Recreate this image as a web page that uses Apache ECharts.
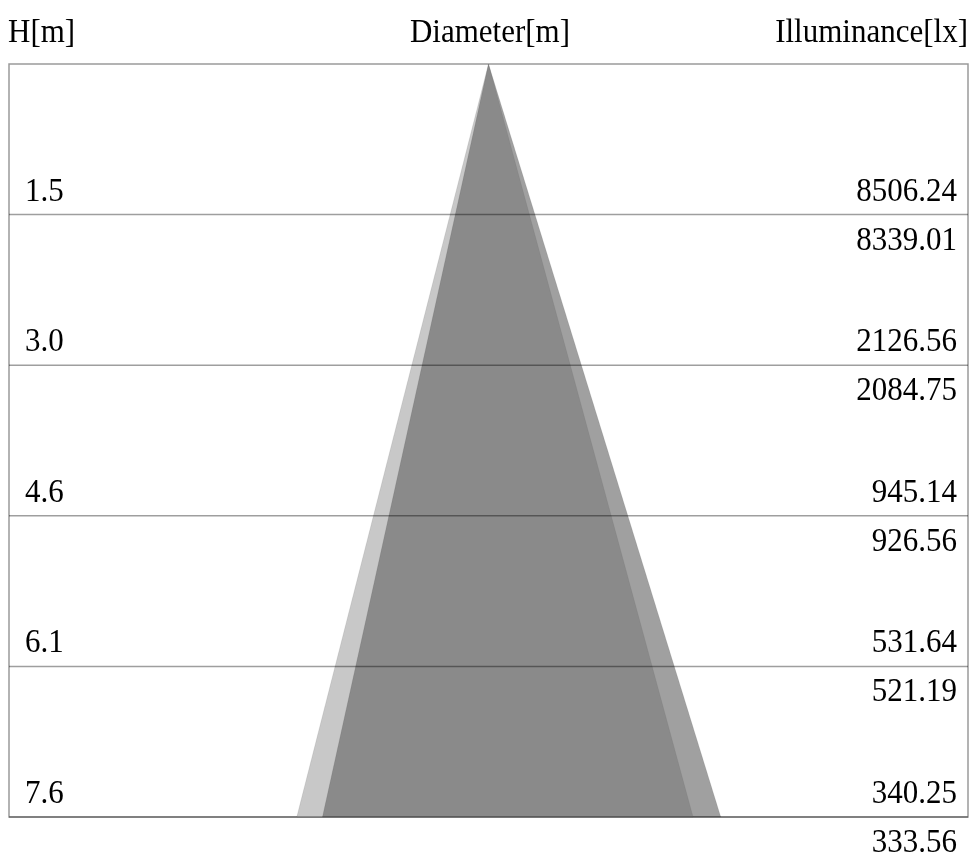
<!DOCTYPE html>
<html>
<head>
<meta charset="utf-8">
<script src="https://cdn.jsdelivr.net/npm/echarts@6/dist/echarts.min.js"></script>
<style>
html,body{margin:0;padding:0;background:#fff;}
#c{width:972px;height:855px;}
</style>
</head>
<body>
<div id="c"></div>
<script>
// Mounting heights [m] (5,10,15,20,25 ft)
var heights = [1.524, 3.048, 4.572, 6.096, 7.62];
// Illuminance [lx] for the two beam planes
var illumUpper = [8506.24, 2126.56, 945.14, 531.64, 340.25];
var illumLower = [8339.01, 2084.75, 926.56, 521.19, 333.56];
// Beam edges [m] at the base height for each plane (left, right)
var coneA = [-1.94, 2.07];
var coneB = [-1.68, 2.35];
var baseHeight = 7.62;
var xHalf = 4.852;
var headers = ['H[m]', 'Diameter[m]', 'Illuminance[lx]'];

var FONT = '"Liberation Serif", "Times New Roman", serif';
var chart = echarts.init(document.getElementById('c'), null, {renderer: 'canvas'});

function txt(x, y, s, align) {
  return {
    type: 'text', x: x, y: y, scaleY: 1.1, originX: 0, originY: 0,
    style: {text: s, fill: '#000', font: '31px ' + FONT, align: align, verticalAlign: 'middle'}
  };
}

chart.setOption({
  animation: false,
  backgroundColor: '#fff',
  grid: {left: 9, right: 4, top: 64, bottom: 38, show: true, borderColor: '#9a9a9a', borderWidth: 1.5, backgroundColor: 'transparent'},
  xAxis: {type: 'value', min: -xHalf, max: xHalf, show: false},
  yAxis: {type: 'value', min: 0, max: baseHeight, inverse: true, show: false},
  graphic: [
    txt(8, 33, headers[0], 'left'),
    txt(490, 33, headers[1], 'center'),
    txt(968, 33, headers[2], 'right')
  ],
  series: [
    {
      type: 'custom', z: 2,
      data: [coneA, coneB],
      renderItem: function (params, api) {
        var l = api.value(0), r = api.value(1);
        var apex = api.coord([0, 0]);
        var pl = api.coord([l, baseHeight]);
        var pr = api.coord([r, baseHeight]);
        var fill = params.dataIndex === 0 ? '#c8c8c8' : 'rgba(97,97,97,0.6)';
        return {type: 'polygon', shape: {points: [apex, pl, pr]}, style: {fill: fill, stroke: 'rgba(0,0,0,0.08)', lineWidth: 1}};
      }
    },
    {
      type: 'custom', z: 3,
      data: heights.map(function (h, i) { return [h, illumUpper[i], illumLower[i]]; }),
      renderItem: function (params, api) {
        var h = api.value(0);
        var pL = api.coord([-xHalf, h]);
        var pR = api.coord([xHalf, h]);
        var y = pL[1];
        var children = [
          {type: 'line', shape: {x1: pL[0], y1: y, x2: pR[0], y2: y}, style: {stroke: 'rgba(0,0,0,0.38)', lineWidth: 1.5}},
          txt(pL[0] + 16, y - 23, h.toFixed(1), 'left'),
          txt(pR[0] - 11, y - 23, api.value(1).toFixed(2), 'right'),
          txt(pR[0] - 11, y + 26, api.value(2).toFixed(2), 'right')
        ];
        return {type: 'group', children: children};
      }
    }
  ]
});
</script>
</body>
</html>
